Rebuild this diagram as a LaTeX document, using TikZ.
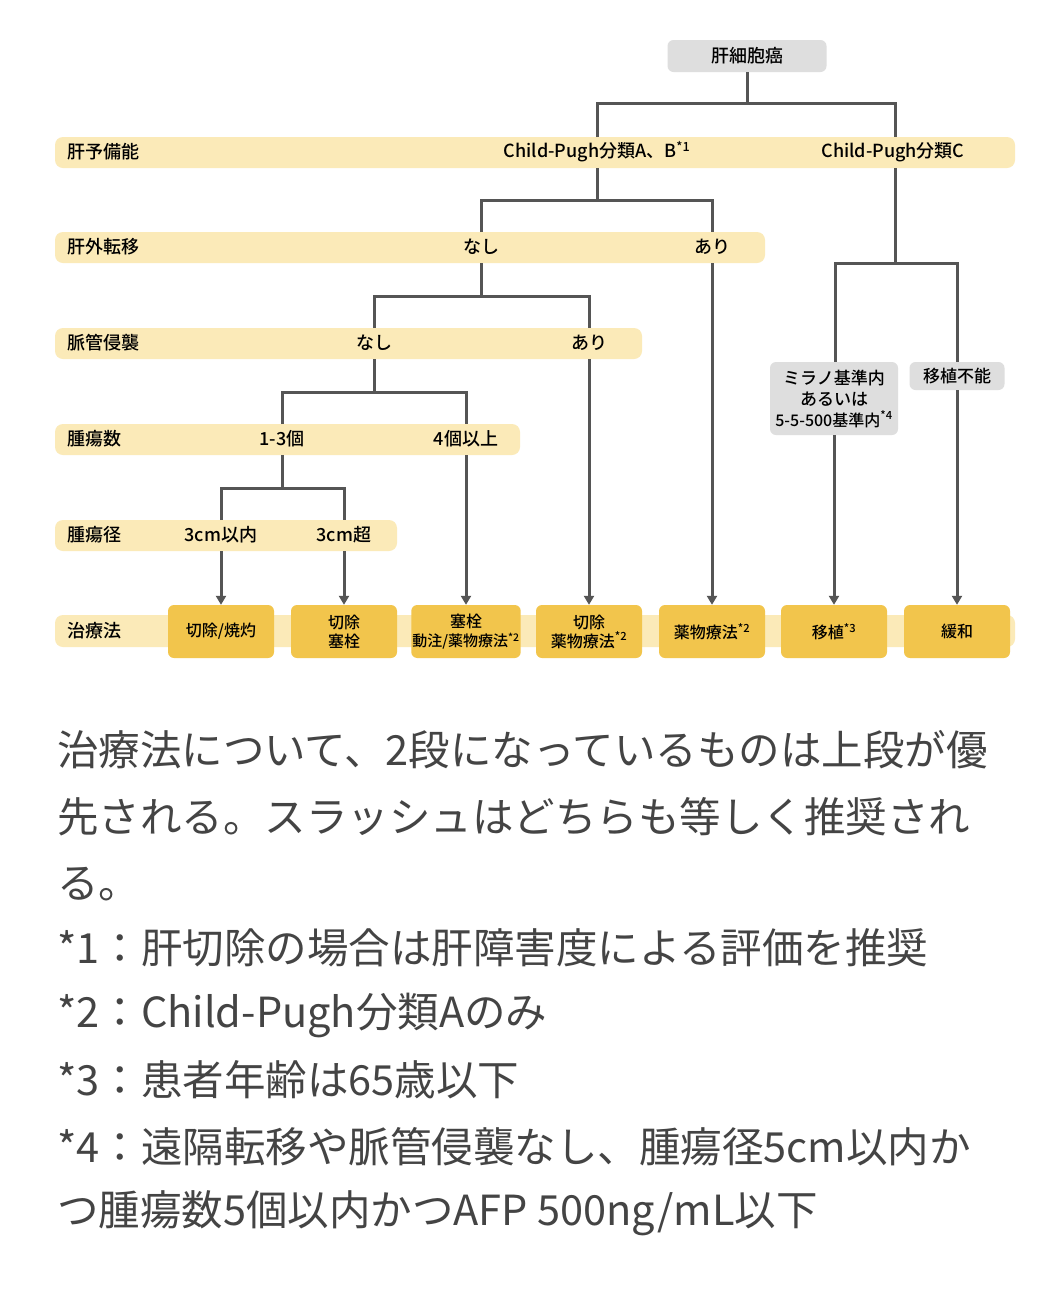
\documentclass[tikz,border=0pt]{standalone}
\usepackage{fontspec}
\setmainfont{Noto Sans CJK JP}
\newfontfamily\jpb{Noto Sans CJK JP Medium}
\usetikzlibrary{arrows.meta}
\definecolor{barc}{HTML}{FBEAB8}
\definecolor{boxc}{HTML}{F2C54C}
\definecolor{grayc}{HTML}{DEDEDE}
\definecolor{linec}{HTML}{555555}
\definecolor{txtc}{HTML}{444444}
\begin{document}
\begin{tikzpicture}[x=1pt,y=-1pt,
  bar/.style={fill=barc,rounded corners=8pt,draw=none},
  lab/.style={font=\jpb\fontsize{18}{20}\selectfont, text=black, inner sep=0},
  tb/.style={fill=boxc,rounded corners=6pt,minimum width=106pt,minimum height=53pt,inner sep=1pt,align=center,font=\jpb\fontsize{16}{19}\selectfont},
  gb/.style={fill=grayc,rounded corners=6pt,inner sep=3pt,align=center,font=\jpb\fontsize{17}{21}\selectfont},
  ln/.style={draw=linec,line width=3pt},
  ar/.style={ln,-{Triangle[width=10pt,length=9pt]}},
  note/.style={anchor=west,inner sep=0,text=txtc,font=\fontsize{41.5}{44}\selectfont}]
\useasboundingbox (0,0) rectangle (1056,1302);
\fill[white] (0,0) rectangle (1056,1302);
% bars
\path[bar] (55,137) rectangle (1015,168);
\path[bar] (55,232) rectangle (765,263);
\path[bar] (55,328) rectangle (642,359);
\path[bar] (55,424) rectangle (520,455);
\path[bar] (55,520) rectangle (397,551);
\path[bar] (55,615) rectangle (1015,647);
\node[lab,anchor=west] at (67,152) {肝予備能};
\node[lab,anchor=west] at (67,247) {肝外転移};
\node[lab,anchor=west] at (67,343) {脈管侵襲};
\node[lab,anchor=west] at (67,439) {腫瘍数};
\node[lab,anchor=west] at (67,535) {腫瘍径};
\node[lab,anchor=west] at (67,631) {治療法};
% root
\node[fill=grayc,rounded corners=6pt,minimum width=159pt,minimum height=32pt,inner sep=0,font=\jpb\fontsize{18}{20}\selectfont] (root) at (747,56) {肝細胞癌};
% lines
\coordinate (r1) at (747,103);
\draw[ln] (root.south) -- (r1);
\draw[ln] (597,137) |- (895,103) -- (895,137);
\node[lab,fill=barc,inner sep=2pt] (ab) at (597,152) {Child-Pugh分類A、B\textsuperscript{*1}};
\node[lab,fill=barc,inner sep=2pt] (c) at (893,152) {Child-Pugh分類C};
\draw[ln] (597,168) -- (597,200);
\draw[ln] (481,232) |- (712,200) -- (712,232);
\node[lab,fill=barc,inner sep=2pt] (n1) at (481,247) {なし};
\node[lab,fill=barc,inner sep=2pt] (a1) at (712,247) {あり};
\draw[ln] (481,263) -- (481,296);
\draw[ln] (374,328) |- (589,296) -- (589,328);
\node[lab,fill=barc,inner sep=2pt] (n2) at (374,343) {なし};
\node[lab,fill=barc,inner sep=2pt] (a2) at (589,343) {あり};
\draw[ln] (374,359) -- (374,392);
\draw[ln] (282,424) |- (466,392) -- (466,424);
\node[lab,fill=barc,inner sep=2pt] (t1) at (282,439) {1-3個};
\node[lab,fill=barc,inner sep=2pt] (t2) at (466,439) {4個以上};
\draw[ln] (282,455) -- (282,488);
\draw[ln] (221,520) |- (344,488) -- (344,520);
\node[lab,fill=barc,inner sep=2pt] (s1) at (221,535) {3cm以内};
\node[lab,fill=barc,inner sep=2pt] (s2) at (344,535) {3cm超};
\draw[ln] (895,168) -- (895,263);
\draw[ln] (835,362) |- (957,263) -- (957,362);
\node[gb,minimum width=128pt,minimum height=73pt] (g1) at (834,398.5) {ミラノ基準内\\あるいは\\{\fontsize{16}{19}\selectfont 5-5-500基準内\textsuperscript{*4}}};
\node[gb,minimum width=95pt,minimum height=28pt] (g2) at (957,376) {移植不能};
% treatment boxes
\node[tb] (b1) at (221,631.5) {切除/焼灼};
\node[tb] (b2) at (344,631.5) {切除\\塞栓};
\node[tb] (b3) at (466,631.5) {塞栓\\{\fontsize{15}{18}\selectfont 動注/薬物療法\textsuperscript{*2}}};
\node[tb] (b4) at (589,631.5) {切除\\薬物療法\textsuperscript{*2}};
\node[tb] (b5) at (712,631.5) {薬物療法\textsuperscript{*2}};
\node[tb] (b6) at (834,631.5) {移植\textsuperscript{*3}};
\node[tb] (b7) at (957,631.5) {緩和};
\draw[ar] (s1.south |- 0,551) -- (b1.north);
\draw[ar] (s2.south |- 0,551) -- (b2.north);
\draw[ar] (t2.south |- 0,455) -- (b3.north);
\draw[ar] (a2.south |- 0,359) -- (b4.north);
\draw[ar] (a1.south |- 0,263) -- (b5.north);
\draw[ar] (g1.south) -- (b6.north);
\draw[ar] (g2.south) -- (b7.north);
% notes
\node[note] (l1) at (57,750) {治療法について、2段になっているものは上段が優};
\node[note] (l2) at (57,817) {先される。スラッシュはどちらも等しく推奨され};
\node[note] (l3) at (57,884) {る。};
\node[note] (l4) at (57,948) {*1：肝切除の場合は肝障害度による評価を推奨};
\node[note] (l5) at (57,1015) {*2：Child-Pugh分類Aのみ};
\node[note] (l6) at (57,1080) {*3：患者年齢は65歳以下};
\node[note] (l7) at (57,1147) {*4：遠隔転移や脈管侵襲なし、腫瘍径5cm以内か};
\node[note] (l8) at (57,1213) {つ腫瘍数5個以内かつAFP 500ng/mL以下};
\end{tikzpicture}
\end{document}
